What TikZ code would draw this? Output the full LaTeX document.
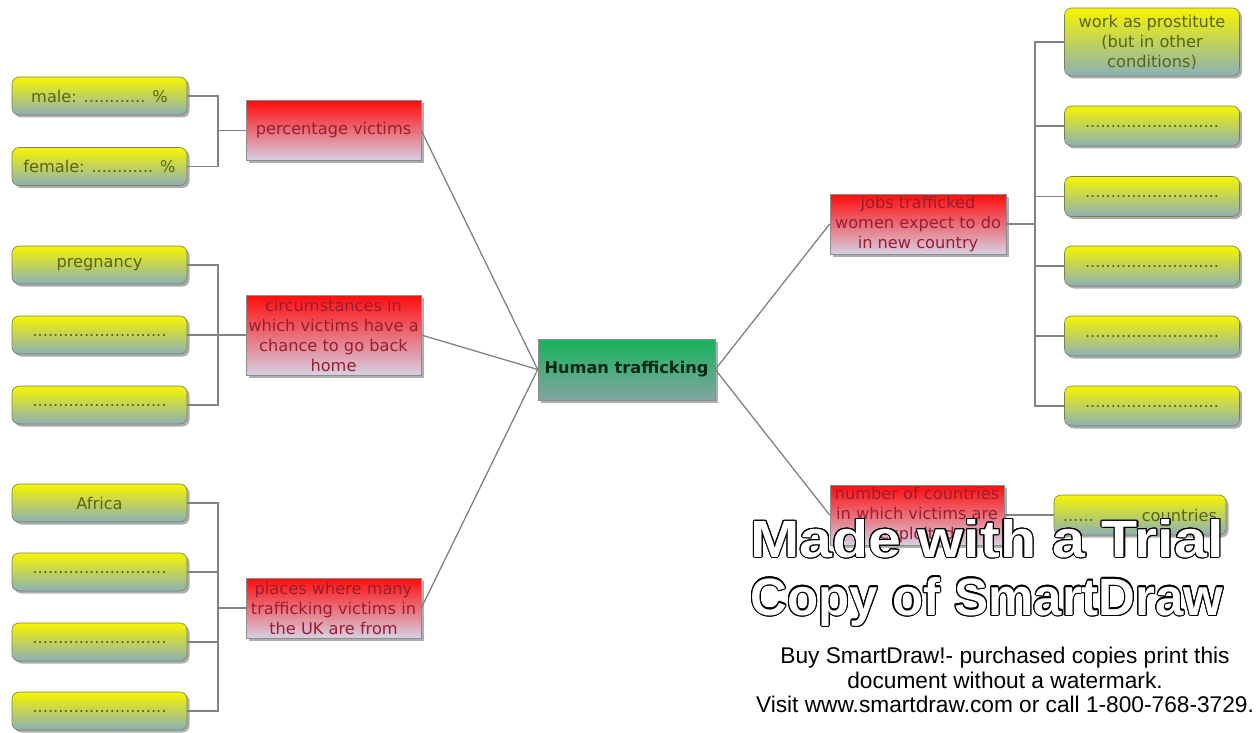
\documentclass[tikz,border=0pt]{standalone}
\usepackage{fontspec}
\setmainfont{DejaVu Sans}
\newfontfamily\arialfont{Liberation Sans}
\usepackage{contour}
\usetikzlibrary{shadows}
\definecolor{leafY}{RGB}{246,244,0}
\definecolor{leafB}{RGB}{140,176,184}
\definecolor{leafEdge}{RGB}{120,130,90}
\definecolor{leafText}{RGB}{90,100,20}
\definecolor{redTop}{RGB}{255,12,12}
\definecolor{redBot}{RGB}{214,208,228}
\definecolor{redText}{RGB}{150,30,50}
\definecolor{grnTop}{RGB}{22,178,90}
\definecolor{grnBot}{RGB}{130,166,162}
\definecolor{grnText}{RGB}{10,40,20}
\definecolor{conn}{RGB}{130,130,130}
\tikzset{
  shade/.style={drop shadow={shadow xshift=2.5pt,shadow yshift=-2.5pt,opacity=0.45,fill=black!70}},
  leaf/.style={shade,rounded corners=7pt,draw=leafEdge,line width=0.6pt,top color=leafY,bottom color=leafB,
    minimum width=175pt,minimum height=38pt,inner sep=0pt,align=center,text=leafText,
    font=\fontsize{16.2}{20}\selectfont},
  topic/.style={shade,draw=black!45,line width=0.6pt,top color=redTop,bottom color=redBot,
    minimum width=175pt,minimum height=60pt,inner sep=0pt,align=center,text=redText,
    font=\fontsize{16.2}{20}\selectfont},
  root/.style={shade,draw=black!45,line width=0.6pt,top color=grnTop,bottom color=grnBot,
    minimum width=177pt,minimum height=61pt,inner sep=0pt,text=grnText,
    font=\bfseries\fontsize{16.2}{20}\selectfont},
  link/.style={draw=conn,line width=1.3pt},
  bracket/.style={draw=conn,line width=1.3pt},
}
\newcommand{\dotsline}{..........................}
\begin{document}
\begin{tikzpicture}[x=1pt,y=-1pt]
\useasboundingbox[fill=white] (0,0) rectangle (1258,733);
% root
\node[root] (ht) at (626.5,369.5) {Human trafficking};
% left topics
\node[topic] (pv) at (333.5,130.5) {percentage victims};
\node[topic,minimum height=80pt] (ci) at (333.5,335) {circumstances in\\which victims have a\\chance to go back\\home};
\node[topic] (pl) at (333.5,608) {places where many\\trafficking victims in\\the UK are from};
% right topics
\node[topic,minimum width=176pt] (jb) at (918,224) {jobs trafficked\\women expect to do\\in new country};
\node[topic,minimum width=174pt] (nc) at (917,515) {number of countries\\in which victims are\\exploited};
% left leaves
\node[leaf] (l1) at (99.5,96) {male: ............ \%};
\node[leaf] (l2) at (99.5,166.5) {female: ............ \%};
\node[leaf] (l3) at (99.5,265) {pregnancy};
\node[leaf] (l4) at (99.5,335) {\dotsline};
\node[leaf] (l5) at (99.5,405) {\dotsline};
\node[leaf] (l6) at (99.5,503) {Africa};
\node[leaf] (l7) at (99.5,572) {\dotsline};
\node[leaf] (l8) at (99.5,642) {\dotsline};
\node[leaf] (l9) at (99.5,711) {\dotsline};
% right leaves
\node[leaf,minimum height=68pt] (r1) at (1152,42) {work as prostitute\\(but in other\\conditions)};
\node[leaf,minimum height=40pt] (r2) at (1152,126) {\dotsline};
\node[leaf,minimum height=40pt] (r3) at (1152,196.5) {\dotsline};
\node[leaf,minimum height=40pt] (r4) at (1152,266) {\dotsline};
\node[leaf,minimum height=40pt] (r5) at (1152,336) {\dotsline};
\node[leaf,minimum height=40pt] (r6) at (1152,406) {\dotsline};
\node[leaf,minimum width=172pt,minimum height=40pt] (r7) at (1140,515) {......\hspace{48pt}countries};
% root links
\draw[link] (ht.west) -- (pv.east);
\draw[link] (ht.west) -- (ci.east);
\draw[link] (ht.west) -- (pl.east);
\draw[link] (ht.east) -- (jb.west);
\draw[link] (ht.east) -- (nc.west);
% left brackets
\coordinate (jpv) at (218,130.5);
\draw[bracket] (pv.west) -- (jpv);
\draw[bracket] (l1.east) -| (jpv);
\draw[bracket] (l2.east) -| (jpv);
\coordinate (jci) at (218,335);
\draw[bracket] (ci.west) -- (jci);
\draw[bracket] (l3.east) -| (jci);
\draw[bracket] (l4.east) -- (jci);
\draw[bracket] (l5.east) -| (jci);
\coordinate (jpl) at (218,608);
\draw[bracket] (pl.west) -- (jpl);
\draw[bracket] (l6.east) -| (jpl);
\draw[bracket] (l7.east) -| (jpl);
\draw[bracket] (l8.east) -| (jpl);
\draw[bracket] (l9.east) -| (jpl);
% right bracket
\coordinate (jjb) at (1035,224);
\draw[bracket] (jb.east) -- (jjb);
\foreach \r in {r1,r2,r3,r4,r5,r6}{\draw[bracket] (\r.west) -| (jjb);}
\draw[bracket] (nc.east) -- (r7.west);
% watermark
\contourlength{1.1pt}
\node[inner sep=0pt] (wm1) at (987,539) {\resizebox{473pt}{38pt}{\arialfont\bfseries\fontsize{60}{60}\selectfont\color{white}\contour{black}{Made with a Trial}}};
\node[inner sep=0pt] (wm2) at (987,602) {\resizebox*{473pt}{50pt}{\arialfont\bfseries\fontsize{52}{52}\selectfont\color{white}\contour{black}{Copy of SmartDraw}}};
\node[inner sep=0pt,align=center,font=\arialfont\fontsize{22.7}{24.5}\selectfont,anchor=north] (wm3) at (1005,647) {Buy SmartDraw!- purchased copies print this\\document without a watermark.\\Visit www.smartdraw.com or call 1-800-768-3729.};
\end{tikzpicture}
\end{document}
